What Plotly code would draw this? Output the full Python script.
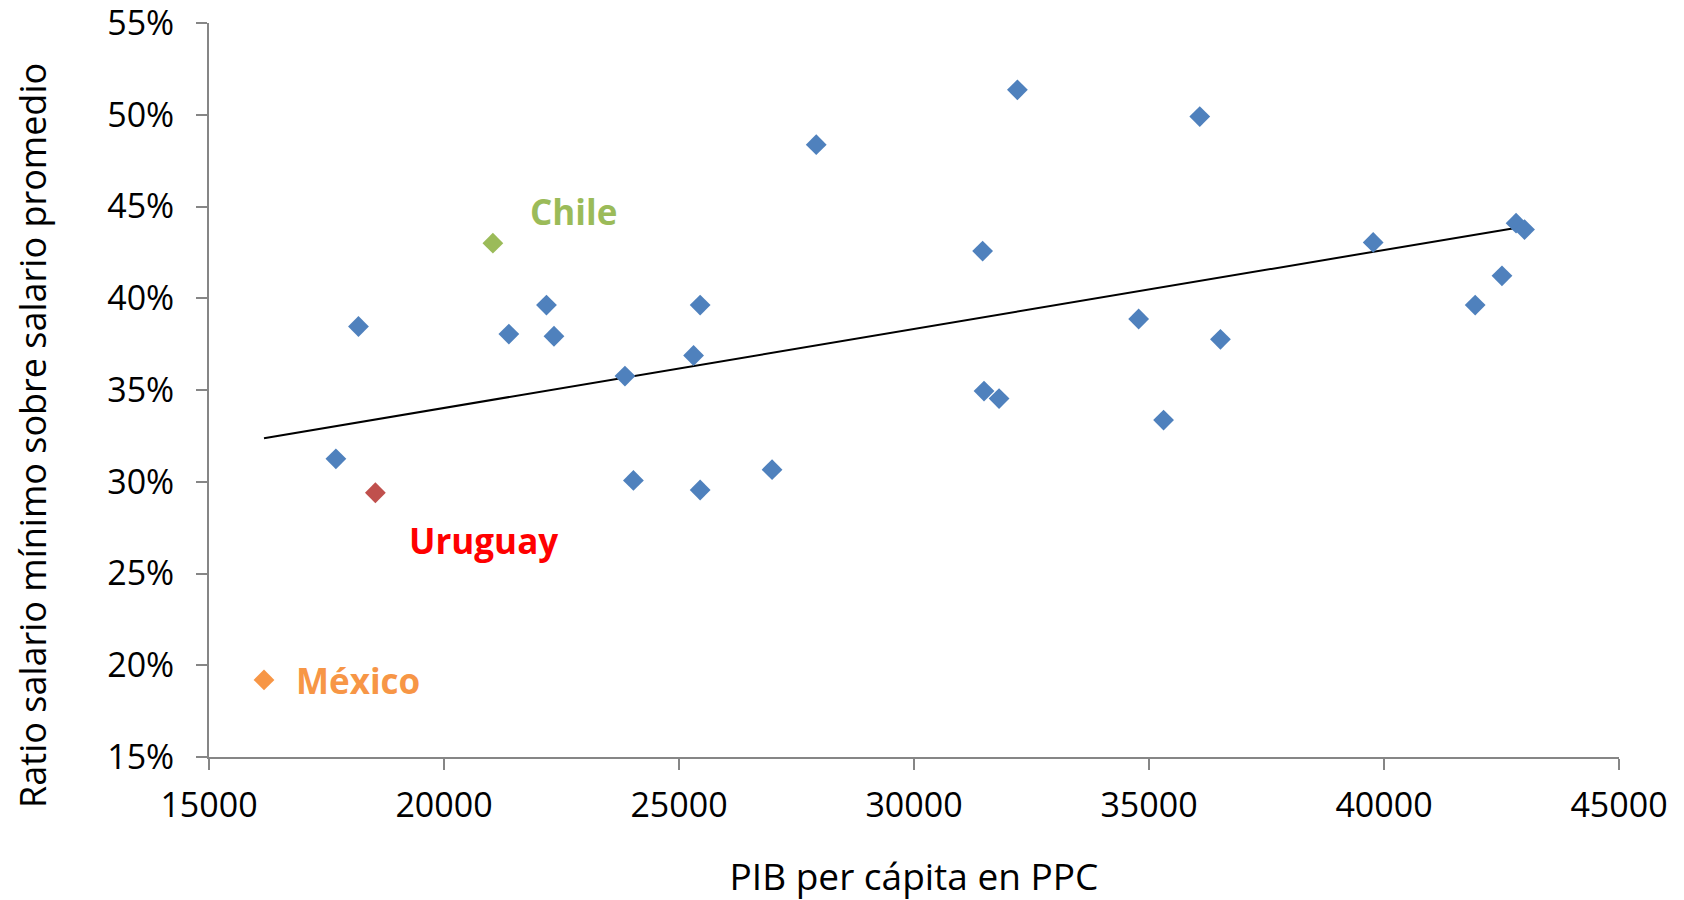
import numpy as np
import plotly.graph_objects as go

# Other OECD countries (blue)
pib_otros = [17700, 18180, 21380, 22180, 22340, 23850, 24030, 25310, 25450, 25450,
             26980, 27920, 31460, 31490, 31810, 32200, 34780, 35310, 36080, 36520,
             39770, 41940, 42510, 42810, 42990]
ratio_otros = [0.3125, 0.3846, 0.3805, 0.3963, 0.3793, 0.3576, 0.3007, 0.3688, 0.3963, 0.2955,
               0.3066, 0.4837, 0.4257, 0.3494, 0.3453, 0.5136, 0.3887, 0.3336, 0.4990, 0.3776,
               0.4304, 0.3963, 0.4122, 0.4409, 0.4374]

# Highlighted countries
paises = ["Chile", "Uruguay", "México"]
pib_paises = [21040, 18540, 16170]
ratio_paises = [0.4300, 0.2940, 0.1920]
colores_marca = ["#9BBB59", "#C0504D", "#F79646"]
colores_texto = ["#9BBB59", "#FF0000", "#F79646"]
# label anchor positions (data coordinates)
etiqueta_x = [22750, 20850, 18180]
etiqueta_y = [0.4474, 0.2679, 0.1916]

x_ticks = [15000, 20000, 25000, 30000, 35000, 40000, 45000]
y_ticks = [0.15, 0.20, 0.25, 0.30, 0.35, 0.40, 0.45, 0.50, 0.55]

FONT = "Open Sans, Noto Sans, DejaVu Sans, sans-serif"

fig = go.Figure()

# Linear trendline fitted on all points
all_x = np.array(pib_otros + pib_paises, dtype=float)
all_y = np.array(ratio_otros + ratio_paises, dtype=float)
m, b = np.polyfit(all_x, all_y, 1)
tx = np.array([all_x.min(), all_x.max()])
fig.add_trace(go.Scatter(x=tx, y=m * tx + b, mode="lines",
                         line=dict(color="#000000", width=2), hoverinfo="skip"))

fig.add_trace(go.Scatter(x=pib_otros, y=ratio_otros, mode="markers",
                         marker=dict(symbol="diamond", size=16, color="#4F81BD",
                                     line=dict(width=0))))

for name, px, py, c in zip(paises, pib_paises, ratio_paises, colores_marca):
    fig.add_trace(go.Scatter(x=[px], y=[py], mode="markers", name=name,
                             marker=dict(symbol="diamond", size=16, color=c,
                                         line=dict(width=0))))

for name, lx, ly, c in zip(paises, etiqueta_x, etiqueta_y, colores_texto):
    fig.add_annotation(x=lx, y=ly, text=f"<b>{name}</b>", showarrow=False,
                       xanchor="center", yanchor="middle",
                       font=dict(family=FONT, size=35, color=c))

# y-axis title (placed slightly below the axis centre, as in the original)
fig.add_annotation(text="Ratio salario mínimo sobre salario promedio",
                   xref="paper", x=0, xanchor="center", xshift=-176,
                   yref="y", y=0.325, yanchor="middle", textangle=-90,
                   showarrow=False, font=dict(family=FONT, size=36, color="#000000"))

fig.update_layout(
    width=1684, height=900,
    margin=dict(l=201, r=73, t=15, b=151),
    paper_bgcolor="white", plot_bgcolor="white",
    showlegend=False,
    font=dict(family=FONT, color="#000000"),
)

fig.update_xaxes(
    range=[15000, 45000], tickvals=x_ticks, tickformat="d",
    showgrid=False, zeroline=False, automargin=False,
    showline=True, linecolor="#868686", linewidth=2,
    ticks="outside", ticklen=11, tickcolor="#868686", tickwidth=2,
    tickfont=dict(family=FONT, size=34, color="#000000"),
    ticklabelstandoff=6, ticklabeloverflow="allow",
    title=dict(text="PIB per cápita en PPC", font=dict(family=FONT, size=37), standoff=38),
)
fig.update_yaxes(
    range=[0.15, 0.55], tickvals=y_ticks, tickformat=".0%",
    showgrid=False, zeroline=False, automargin=False,
    showline=True, linecolor="#868686", linewidth=2,
    ticks="outside", ticklen=11, tickcolor="#868686", tickwidth=2,
    tickfont=dict(family=FONT, size=34, color="#000000"),
    ticklabelstandoff=15, ticklabeloverflow="allow",
)

fig.write_html("out.html")
